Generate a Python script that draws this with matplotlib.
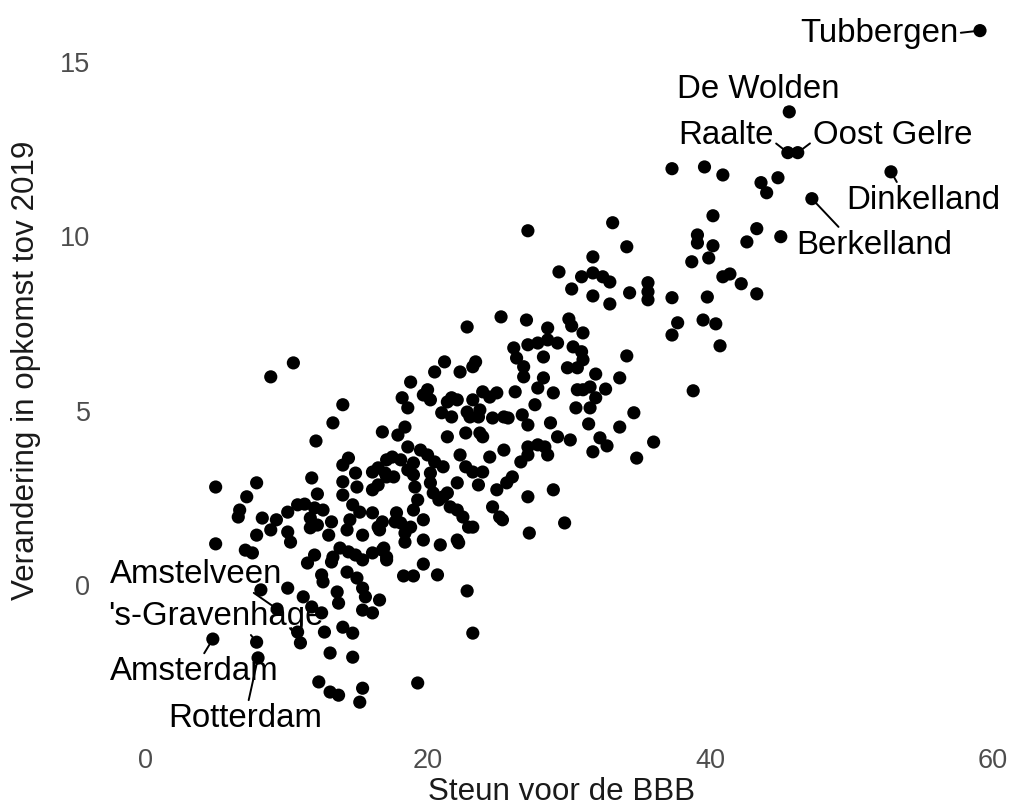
import matplotlib.pyplot as plt

plt.rcParams['font.family'] = ['Liberation Sans', 'DejaVu Sans']

# steun voor de BBB (%) per gemeente
bbb = [
    10.5, 8.9, 14.0, 13.3, 12.1, 16.8, 5.0, 7.9, 11.8, 12.2, 7.2, 6.7, 6.6, 8.3, 9.3, 10.1,
    10.8, 11.3, 12.0, 12.6, 13.2, 11.7, 14.0, 14.4, 14.0, 14.9, 14.0, 15.0, 16.1, 16.1, 16.5,
    16.5, 17.1, 17.1, 14.7, 15.2, 16.1, 14.5, 16.5,
    10.1, 10.3, 8.9, 7.9, 11.7, 12.2, 13.0, 14.3, 15.4, 5.0, 7.1, 7.6, 12.0, 11.5, 13.3, 13.8,
    14.4, 14.9, 15.4, 16.1, 16.8, 17.1, 13.2, 14.3, 15.0, 12.5, 12.6, 13.6, 13.7, 15.4, 15.6,
    16.6, 10.1, 8.2, 11.2, 11.8, 12.5, 15.4, 16.1, 14.0, 14.7, 12.7, 10.8, 11.0, 13.1, 14.7,
    12.3, 13.1, 13.7, 15.4, 15.2,
    26.1, 27.1, 27.8, 28.5, 29.2, 30.3, 28.2, 26.3, 26.8, 26.8, 29.9, 30.6, 28.2, 27.8, 28.9,
    26.2, 30.6, 21.2, 23.4, 23.2, 22.3, 20.5, 18.8, 20.0, 19.7, 20.2, 18.2, 18.6, 21.7, 21.4,
    22.1, 23.2, 23.9, 24.9, 24.4, 23.7, 23.6, 23.0, 22.8, 21.0, 21.7, 24.6, 25.4, 25.7, 26.7,
    27.1, 27.6, 30.5, 28.7, 18.4, 17.9, 21.4, 22.7, 23.9, 23.7, 29.2, 30.1, 18.6, 19.5, 17.5,
    18.1, 20.0, 20.5, 21.1, 19.0, 18.6, 17.6, 17.0, 19.0, 20.2, 19.1, 20.2, 19.3, 20.4, 21.4,
    22.1, 22.3, 22.7, 23.2, 23.9, 23.6, 24.4, 25.4, 27.1, 27.8, 28.3, 28.5, 27.1, 26.6, 26.0,
    25.6, 24.9, 24.6, 25.1, 27.1, 28.9, 29.7, 17.8, 19.0, 19.7, 21.6, 22.1, 22.5, 21.1, 20.8,
    22.9, 18.1, 16.8, 18.8,
    17.7, 18.4, 18.4, 19.7, 20.9, 22.1, 22.2, 23.2, 25.3, 27.2, 16.9, 17.1, 16.6, 19.7, 18.3,
    19.0, 20.7, 22.8, 23.2, 19.3,
    27.1, 33.1, 34.1, 31.7, 29.3, 30.9, 31.7, 32.4, 32.9, 35.6, 30.2, 31.7, 34.3, 35.6, 35.6,
    37.3, 32.9, 22.8, 25.2, 27.0, 28.5, 30.0, 30.2, 31.0, 37.3, 37.7,
    30.9, 31.0, 34.1, 31.9, 33.6, 31.5, 31.0, 32.6, 31.9, 31.5, 34.6, 31.4, 33.6, 32.2, 32.7,
    31.7, 34.8, 36.0, 39.5, 40.4, 40.7, 38.8,
    37.3, 39.6, 40.9, 43.6, 44.0, 44.8, 40.2, 39.1, 39.1, 40.2, 38.7, 39.9, 42.6, 43.3, 45.0,
    39.8, 40.9, 41.4, 42.2, 43.3,
]

# verandering in opkomst t.o.v. 2019 (procentpunt)
opkomst = [
    6.37, 5.97, 5.17, 4.65, 4.13, 4.39, 2.81, 2.93, 3.07, 2.61, 2.53, 2.15, 1.95, 1.92, 1.87, 2.09,
    2.30, 2.32, 2.21, 2.15, 1.81, 1.92, 3.44, 3.64, 2.96, 3.21, 2.58, 2.81, 2.73, 3.24, 3.36,
    2.87, 3.59, 3.10, 2.30, 2.09, 2.07, 1.87, 1.66,
    1.52, 1.23, 1.58, 1.43, 1.64, 1.72, 1.43, 1.58, 1.43, 1.18, 1.00, 0.92, 0.86, 0.63, 0.80, 1.06,
    0.95, 0.86, 0.72, 0.92, 1.00, 0.72, 0.66, 0.37, 0.20, 0.29, 0.09, -0.20, -0.52, -0.09, -0.34,
    -0.43, -0.09, -0.14, -0.34, -0.63, -0.80, -0.72, -0.80, -1.21, -1.38, -1.35, -1.35, -1.66, -1.95, -2.07,
    -2.78, -3.07, -3.16, -2.96, -3.36,
    6.80, 6.89, 6.94, 7.03, 6.94, 6.83, 6.54, 6.51, 6.26, 5.97, 6.23, 6.23, 5.94, 5.65, 5.51,
    5.54, 5.60, 6.40, 6.40, 6.26, 6.11, 6.11, 5.82, 5.60, 5.45, 5.31, 5.37, 5.08, 5.37, 5.25,
    5.31, 5.31, 5.54, 5.51, 5.39, 5.02, 4.82, 4.82, 4.96, 4.94, 4.82, 4.79, 4.82, 4.79, 4.88,
    4.59, 5.17, 5.08, 4.65, 4.53, 4.30, 4.25, 4.36, 4.25, 4.36, 4.25, 4.16, 3.96, 3.87, 3.67,
    3.59, 3.73, 3.53, 3.39, 3.50, 3.30, 3.10, 3.21, 3.16, 3.21, 2.81, 2.93, 2.44, 2.64, 2.64,
    2.93, 3.73, 3.39, 3.24, 3.24, 2.87, 3.67, 3.87, 3.96, 4.02, 3.96, 3.73, 3.73, 3.53, 3.10,
    2.93, 2.73, 2.24, 1.95, 2.53, 2.73, 1.78, 2.07, 2.15, 1.87, 2.24, 2.15, 1.95, 2.53, 2.44,
    1.66, 1.78, 1.81, 1.66,
    1.81, 1.49, 1.23, 1.29, 1.15, 1.29, 1.21, 1.66, 1.87, 1.49, 1.06, 0.80, 1.58, 0.60, 0.26,
    0.26, 0.29, -0.17, -1.38, -2.81,
    10.16, 10.39, 9.70, 9.41, 8.98, 8.84, 8.95, 8.84, 8.69, 8.67, 8.49, 8.29, 8.38, 8.41, 8.18,
    8.24, 8.06, 7.40, 7.69, 7.60, 7.37, 7.63, 7.43, 7.23, 7.17, 7.52,
    6.69, 6.46, 6.57, 6.05, 5.94, 5.68, 5.60, 5.62, 5.37, 5.08, 4.94, 4.62, 4.53, 4.22, 3.99,
    3.82, 3.64, 4.10, 7.60, 7.49, 6.86, 5.57,
    11.94, 11.99, 11.76, 11.54, 11.25, 11.68, 10.59, 10.04, 9.81, 9.73, 9.27, 9.38, 9.84, 10.22, 9.99,
    8.26, 8.84, 8.92, 8.64, 8.35,
]

# gemeenten met een label
label_names = ['Tubbergen', 'De Wolden', 'Raalte', 'Oost Gelre', 'Dinkelland', 'Berkelland',
               'Amstelveen', "'s-Gravenhage", 'Amsterdam', 'Rotterdam']
label_bbb = [59.1, 45.6, 45.5, 46.2, 52.8, 47.2, 9.35, 7.9, 4.8, 8.0]
label_opkomst = [15.9, 13.57, 12.40, 12.40, 11.85, 11.08, -0.69, -1.64, -1.55, -2.09]

# repel-style layout: text anchor offset (points), alignment, segment start on text box
label_offsets = [(-15.8, -7.9), (-80.6, 10.1), (-79.2, 6.5), (10.8, 6.5), (-32.4, -26.6),
                 (-11.5, -39.6), (-120.2, 18.7), (-106.6, 12.2), (-74.2, -29.5), (-64.8, -49.7)]
label_ha = ['right', 'left', 'left', 'left', 'left', 'left', 'left', 'left', 'left', 'left']
label_relpos = [(1, 0.5), (0.63, 0.1), (1, 0.3), (0, 0.3), (0.34, 1), (0.29, 1),
                (0.81, 0), (0.65, 0), (0.55, 1), (0.52, 1)]

fig = plt.figure(figsize=(10.15, 8.08), dpi=100)
ax = fig.add_axes([0.122, 0.112, 0.863, 0.876])

ax.scatter(bbb + label_bbb, opkomst + label_opkomst, s=90, color='black',
           edgecolors='none', zorder=3)

for name, x, y, off, ha, rp in zip(label_names, label_bbb, label_opkomst,
                                   label_offsets, label_ha, label_relpos):
    ax.annotate(name, xy=(x, y), xytext=off, textcoords='offset points',
                ha=ha, va='baseline', fontsize=23.8, color='black',
                arrowprops=dict(arrowstyle='-', lw=1.4, color='black', relpos=rp,
                                shrinkA=0, shrinkB=4))

ax.set_xlim(-1.5, 60.5)
ax.set_ylim(-3.8, 16.5)
ax.set_xticks([0, 20, 40, 60])
ax.set_yticks([0, 5, 10, 15])
ax.tick_params(length=0, labelsize=19.5, labelcolor='#4D4D4D')
ax.tick_params(axis='x', pad=22)
ax.tick_params(axis='y', pad=24)
for s in ax.spines.values():
    s.set_visible(False)

ax.set_xlabel('Steun voor de BBB', fontsize=22.6, color='#1a1a1a')
ax.set_ylabel('Verandering in opkomst tov 2019', fontsize=22.6, color='#1a1a1a')
ax.xaxis.set_label_coords(0.5, -0.084)
ax.yaxis.set_label_coords(-0.094, 0.49)

plt.savefig('out.png', dpi=100)
